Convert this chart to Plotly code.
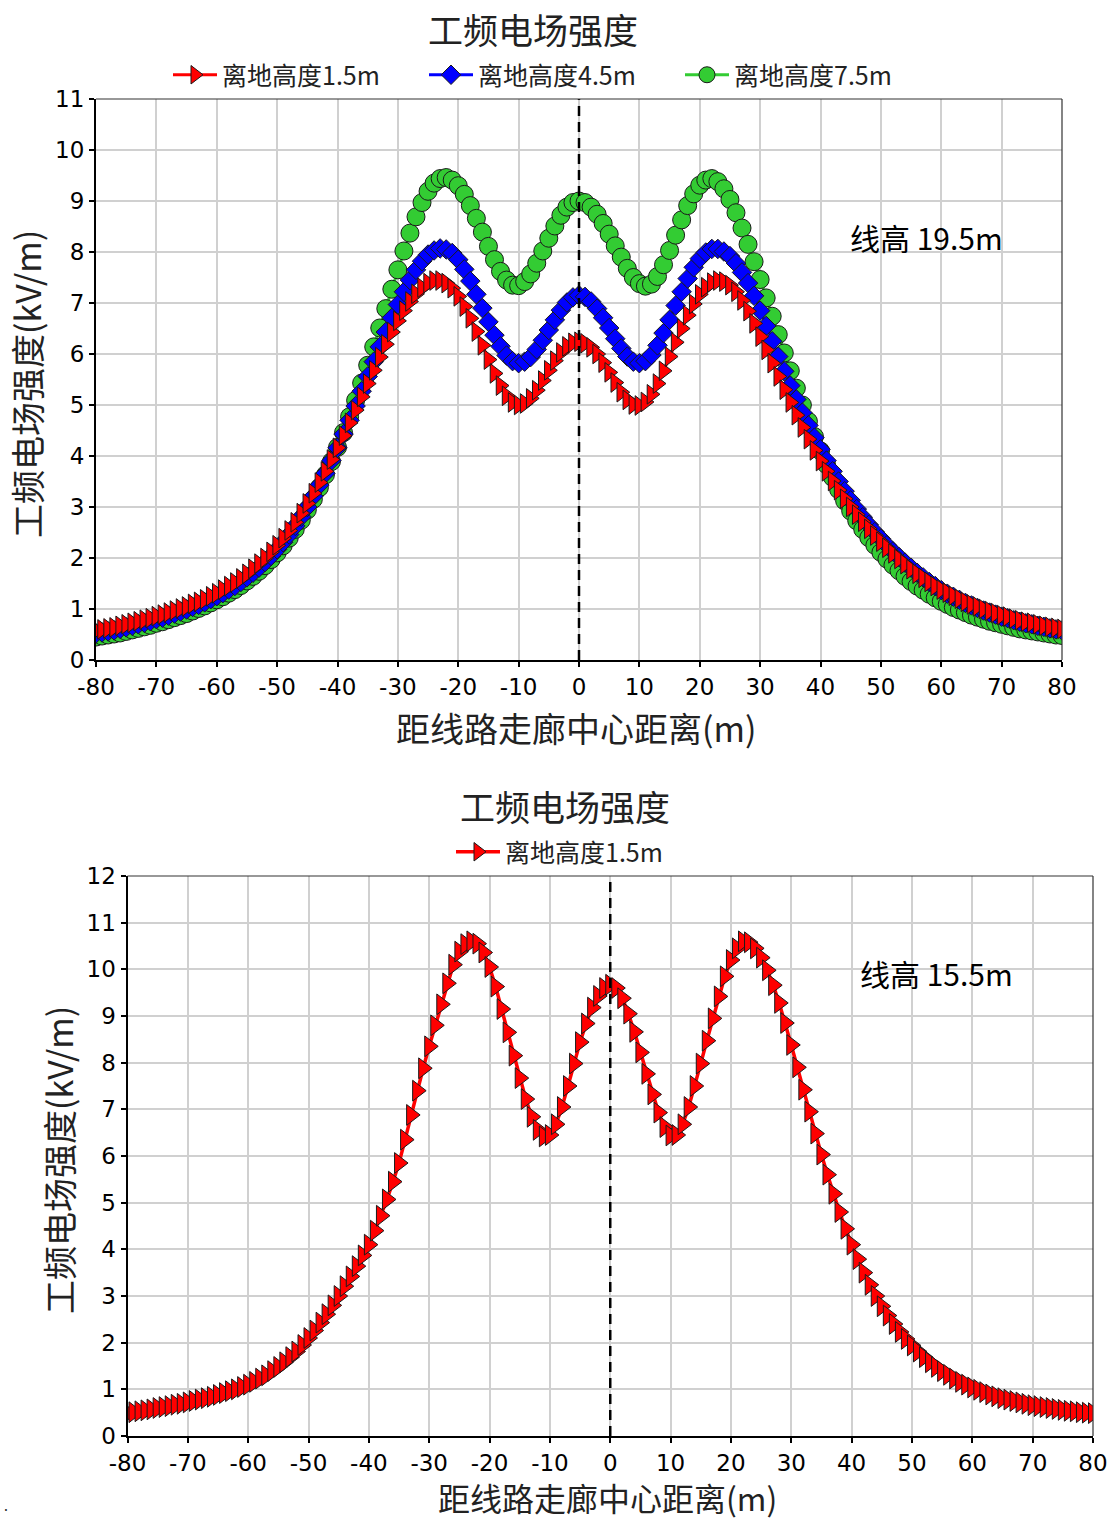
import plotly.graph_objects as go

# Distance from the corridor centre (m), 1 m step
distance = list(range(-80, 81))

# Power-frequency electric field (kV/m), line height 19.5 m
e_195_h15 = [
    0.58, 0.60, 0.62, 0.64, 0.67, 0.70, 0.73, 0.76, 0.79, 0.82,
    0.86, 0.89, 0.93, 0.97, 1.01, 1.05, 1.10, 1.14, 1.19, 1.25,
    1.31, 1.38, 1.45, 1.52, 1.60, 1.69, 1.79, 1.89, 2.00, 2.12,
    2.25, 2.39, 2.54, 2.70, 2.88, 3.07, 3.27, 3.48, 3.70, 3.93,
    4.16, 4.40, 4.65, 4.90, 5.16, 5.42, 5.68, 5.94, 6.19, 6.43,
    6.65, 6.85, 7.03, 7.18, 7.30, 7.39, 7.44, 7.44, 7.39, 7.29,
    7.13, 6.93, 6.70, 6.44, 6.17, 5.89, 5.62, 5.38, 5.18, 5.05,
    5.00, 5.03, 5.13, 5.29, 5.48, 5.68, 5.87, 6.03, 6.15, 6.22,
    6.24,
    6.21, 6.13, 6.00, 5.83, 5.64, 5.44, 5.25, 5.10, 5.01, 4.99,
    5.06, 5.21, 5.42, 5.67, 5.95, 6.23, 6.50, 6.76, 6.98, 7.17,
    7.31, 7.40, 7.44, 7.42, 7.35, 7.22, 7.05, 6.84, 6.60, 6.34,
    6.08, 5.82, 5.56, 5.30, 5.05, 4.80, 4.56, 4.33, 4.11, 3.90,
    3.70, 3.51, 3.33, 3.16, 3.00, 2.85, 2.71, 2.57, 2.44, 2.32,
    2.20, 2.09, 1.98, 1.88, 1.78, 1.69, 1.61, 1.53, 1.45, 1.38,
    1.32, 1.26, 1.20, 1.14, 1.09, 1.05, 1.00, 0.96, 0.92, 0.88,
    0.85, 0.81, 0.78, 0.75, 0.73, 0.70, 0.67, 0.65, 0.63, 0.61,
]
e_195_h45 = [
    0.52, 0.54, 0.56, 0.58, 0.61, 0.64, 0.67, 0.70, 0.73, 0.76,
    0.80, 0.83, 0.87, 0.91, 0.95, 0.99, 1.04, 1.08, 1.13, 1.19,
    1.25, 1.31, 1.38, 1.45, 1.53, 1.62, 1.71, 1.81, 1.92, 2.04,
    2.17, 2.31, 2.46, 2.63, 2.81, 3.00, 3.21, 3.43, 3.66, 3.91,
    4.16, 4.43, 4.70, 4.98, 5.27, 5.56, 5.85, 6.14, 6.43, 6.71,
    6.97, 7.22, 7.45, 7.65, 7.82, 7.95, 8.03, 8.07, 8.05, 7.98,
    7.85, 7.66, 7.43, 7.17, 6.90, 6.63, 6.37, 6.15, 5.97, 5.86,
    5.82, 5.85, 5.94, 6.09, 6.27, 6.47, 6.67, 6.86, 7.01, 7.11,
    7.15,
    7.12, 7.03, 6.89, 6.71, 6.51, 6.30, 6.11, 5.95, 5.85, 5.82,
    5.86, 5.98, 6.17, 6.41, 6.67, 6.95, 7.22, 7.48, 7.70, 7.87,
    7.99, 8.06, 8.06, 8.01, 7.92, 7.78, 7.60, 7.39, 7.14, 6.85,
    6.55, 6.25, 5.95, 5.66, 5.38, 5.11, 4.85, 4.60, 4.36, 4.13,
    3.91, 3.70, 3.50, 3.31, 3.13, 2.96, 2.80, 2.65, 2.51, 2.38,
    2.25, 2.13, 2.02, 1.91, 1.81, 1.71, 1.62, 1.53, 1.45, 1.37,
    1.30, 1.24, 1.18, 1.12, 1.07, 1.02, 0.97, 0.93, 0.89, 0.85,
    0.82, 0.78, 0.75, 0.72, 0.70, 0.67, 0.65, 0.62, 0.60, 0.58,
]
e_195_h75 = [
    0.45, 0.47, 0.49, 0.51, 0.53, 0.56, 0.59, 0.62, 0.65, 0.68,
    0.72, 0.75, 0.79, 0.83, 0.87, 0.91, 0.96, 1.01, 1.06, 1.12,
    1.18, 1.24, 1.31, 1.38, 1.46, 1.55, 1.64, 1.74, 1.85, 1.97,
    2.10, 2.24, 2.39, 2.56, 2.74, 2.94, 3.15, 3.38, 3.63, 3.89,
    4.17, 4.46, 4.77, 5.09, 5.43, 5.78, 6.14, 6.51, 6.89, 7.27,
    7.65, 8.02, 8.37, 8.69, 8.97, 9.19, 9.35, 9.44, 9.46, 9.41,
    9.30, 9.13, 8.91, 8.66, 8.39, 8.11, 7.85, 7.62, 7.45, 7.35,
    7.34, 7.42, 7.57, 7.78, 8.02, 8.27, 8.51, 8.72, 8.88, 8.97,
    9.00,
    8.97, 8.88, 8.74, 8.56, 8.35, 8.12, 7.90, 7.68, 7.50, 7.38,
    7.33, 7.37, 7.52, 7.75, 8.03, 8.33, 8.63, 8.91, 9.14, 9.31,
    9.41, 9.44, 9.38, 9.24, 9.03, 8.77, 8.47, 8.15, 7.81, 7.46,
    7.10, 6.74, 6.38, 6.02, 5.67, 5.33, 5.00, 4.68, 4.38, 4.10,
    3.83, 3.58, 3.34, 3.12, 2.92, 2.73, 2.56, 2.40, 2.25, 2.11,
    1.98, 1.86, 1.75, 1.64, 1.54, 1.45, 1.37, 1.29, 1.22, 1.15,
    1.09, 1.03, 0.98, 0.93, 0.88, 0.84, 0.80, 0.76, 0.73, 0.70,
    0.67, 0.64, 0.61, 0.59, 0.57, 0.55, 0.53, 0.51, 0.49, 0.48,
]

# Power-frequency electric field (kV/m), line height 15.5 m, 1.5 m above ground
e_155_h15 = [
    0.49, 0.51, 0.53, 0.55, 0.57, 0.60, 0.62, 0.64, 0.67, 0.69,
    0.72, 0.75, 0.78, 0.81, 0.84, 0.88, 0.92, 0.96, 1.00, 1.05,
    1.10, 1.16, 1.23, 1.30, 1.39, 1.48, 1.58, 1.69, 1.81, 1.95,
    2.10, 2.26, 2.43, 2.61, 2.80, 3.00, 3.21, 3.42, 3.64, 3.87,
    4.10, 4.40, 4.72, 5.07, 5.45, 5.85, 6.35, 6.88, 7.40, 7.88,
    8.35, 8.80, 9.25, 9.70, 10.10, 10.38, 10.54, 10.60, 10.55, 10.36,
    10.05, 9.63, 9.15, 8.65, 8.15, 7.67, 7.22, 6.84, 6.56, 6.42,
    6.45, 6.68, 7.05, 7.50, 7.98, 8.44, 8.84, 9.18, 9.43, 9.60,
    9.67,
    9.60, 9.38, 9.05, 8.66, 8.22, 7.76, 7.32, 6.93, 6.62, 6.44,
    6.45, 6.68, 7.05, 7.50, 7.98, 8.47, 8.95, 9.42, 9.85, 10.20,
    10.45, 10.60, 10.58, 10.45, 10.25, 9.98, 9.66, 9.28, 8.85, 8.38,
    7.90, 7.42, 6.95, 6.48, 6.03, 5.60, 5.19, 4.80, 4.44, 4.10,
    3.79, 3.50, 3.24, 3.00, 2.78, 2.58, 2.40, 2.23, 2.08, 1.94,
    1.81, 1.69, 1.58, 1.48, 1.39, 1.31, 1.23, 1.16, 1.10, 1.04,
    0.99, 0.94, 0.89, 0.85, 0.81, 0.78, 0.75, 0.72, 0.69, 0.66,
    0.64, 0.62, 0.60, 0.58, 0.56, 0.54, 0.53, 0.51, 0.50, 0.49,
]

x_ticks = list(range(-80, 81, 10))
x_tick_text = [str(v) for v in x_ticks]
y_ticks_top = list(range(0, 12))
y_ticks_bottom = list(range(0, 13))

W, H = 1111, 1522
CJK = "Noto Sans CJK SC"
NUM = "DejaVu Sans"
TXT = "#222222"


def px(x):
    return x / W


def py(y):
    return 1 - y / H


fig = go.Figure()

series_top = [
    ("离地高度7.5m", e_195_h75, "#33cc33", "circle", 18, 3),
    ("离地高度4.5m", e_195_h45, "#0000ff", "diamond", 15, 2),
    ("离地高度1.5m", e_195_h15, "#ff0000", "triangle-right", 17, 1),
]
for name, vals, color, sym, size, rank in series_top:
    fig.add_trace(go.Scatter(
        x=distance, y=vals, name=name, mode="lines+markers",
        line=dict(color=color, width=3),
        marker=dict(symbol=sym, size=size, color=color,
                    line=dict(color="#1a1a1a", width=1)),
        xaxis="x", yaxis="y", legend="legend", legendrank=rank,
    ))

fig.add_trace(go.Scatter(
    x=distance, y=e_155_h15, name="离地高度1.5m", mode="lines+markers",
    line=dict(color="#ff0000", width=3.5),
    marker=dict(symbol="triangle-right", size=18, color="#ff0000",
                line=dict(color="#1a1a1a", width=1)),
    xaxis="x2", yaxis="y2", legend="legend2",
))

axis_common = dict(
    showgrid=True, gridcolor="#d0d0d0", gridwidth=1.5,
    showline=True, linecolor="black", linewidth=2,
    ticks="outside", ticklen=5, tickcolor="black", tickwidth=1.5,
    tickfont=dict(family=NUM, size=23, color="black"),
    zeroline=False, automargin=False,
)

fig.update_layout(
    width=W, height=H,
    margin=dict(l=0, r=0, t=0, b=0),
    paper_bgcolor="white", plot_bgcolor="white",
    showlegend=True,
    xaxis=dict(axis_common, domain=[px(96), px(1062)], range=[-80, 80],
               tickvals=x_ticks, ticktext=x_tick_text, anchor="y"),
    yaxis=dict(axis_common, domain=[py(660), py(99)], range=[0, 11],
               tickvals=y_ticks_top, anchor="x"),
    xaxis2=dict(axis_common, domain=[px(127.5), px(1093)], range=[-80, 80],
                tickvals=x_ticks, ticktext=x_tick_text, anchor="y2"),
    yaxis2=dict(axis_common, domain=[py(1436), py(876)], range=[0, 12],
                tickvals=y_ticks_bottom, anchor="x2"),
    legend=dict(orientation="h", x=px(168), y=py(75), xanchor="left",
                yanchor="middle", font=dict(family=CJK, size=25, color=TXT),
                bgcolor="rgba(0,0,0,0)", entrywidth=197, entrywidthmode="pixels",
                itemwidth=44),
    legend2=dict(orientation="h", x=px(451), y=py(852), xanchor="left",
                 yanchor="middle", font=dict(family=CJK, size=25, color=TXT),
                 bgcolor="rgba(0,0,0,0)", itemwidth=44),
)


def label(text, x, y, size, angle=0, anchor="center", color=TXT, vanchor="middle"):
    return dict(text=text, x=px(x), y=py(y), xref="paper", yref="paper",
                xanchor=anchor, yanchor=vanchor, textangle=angle,
                showarrow=False, font=dict(family=CJK, size=size, color=color))


annotations = [
    label("工频电场强度", 533, 28, 35),
    label("距线路走廊中心距离(m)", 576, 727, 34),
    label("工频电场强度(kV/m)", 27, 384, 34, angle=-90),
    label("线高 19.5m", 848, 237, 30, anchor="left", color="black"),
    label("工频电场强度", 565, 805, 35),
    label("距线路走廊中心距离(m)", 607, 1522, 32, vanchor="bottom"),
    label("工频电场强度(kV/m)", 58, 1160, 34, angle=-90),
    label("线高 15.5m", 858, 973, 30, anchor="left", color="black"),
    label(".", 2, 1505, 14, anchor="left"),
]
fig.update_layout(annotations=annotations)

shapes = []
for xr, yr in (("x", "y"), ("x2", "y2")):
    # centre-line marker
    shapes.append(dict(type="line", xref=xr, yref=f"{yr} domain", x0=0, x1=0,
                       y0=0, y1=1, line=dict(color="black", width=2.5, dash="10px,6px")))
    # thin frame on the top and right sides
    shapes.append(dict(type="line", xref=f"{xr} domain", yref=f"{yr} domain",
                       x0=0, x1=1, y0=1, y1=1, line=dict(color="#333", width=1.2)))
    shapes.append(dict(type="line", xref=f"{xr} domain", yref=f"{yr} domain",
                       x0=1, x1=1, y0=0, y1=1, line=dict(color="#333", width=1.2)))
fig.update_layout(shapes=shapes)

fig.write_html("out.html")
